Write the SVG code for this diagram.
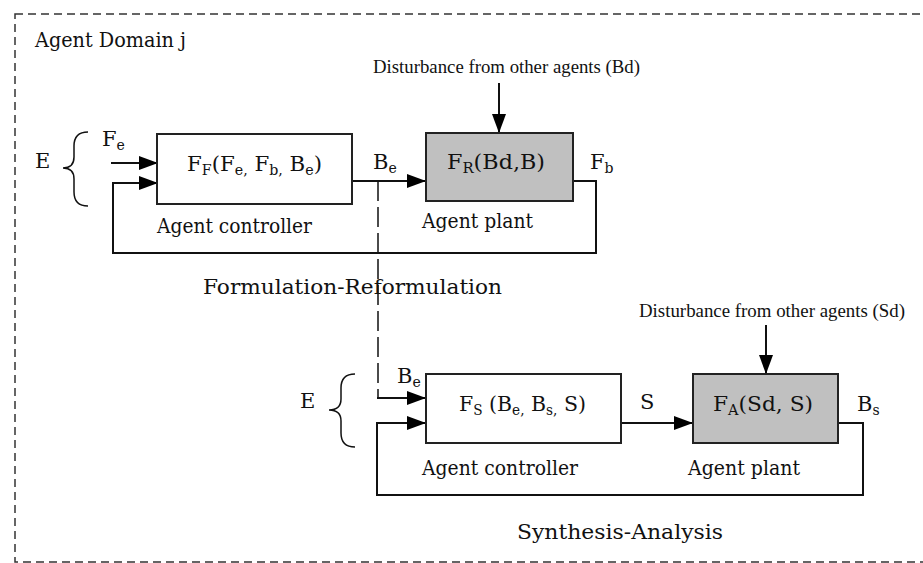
<svg xmlns="http://www.w3.org/2000/svg" width="923" height="563" viewBox="0 0 923 563">
  <defs>
    <marker id="arrow" markerWidth="19" markerHeight="14" refX="19" refY="7" orient="auto" markerUnits="userSpaceOnUse">
      <path d="M0,0 L19,7 L0,14 Z" fill="#000"/>
    </marker>
    <style>
      .lbl { font-family: "DejaVu Serif", "Liberation Serif", serif; font-size: 21px; fill: #111; }
      .sub { font-size: 14px; }
      .dist { font-family: "Liberation Serif", "DejaVu Serif", serif; font-size: 19px; fill: #111; }
      .box { fill: #fff; stroke: #222; stroke-width: 2; }
      .plant { fill: #c0c0c0; stroke: #222; stroke-width: 2; }
      .wire { fill: none; stroke: #111; stroke-width: 2; }
      .dashed { fill: none; stroke: #111; stroke-width: 1.5; stroke-dasharray: 20 6; }
      .brace { fill: none; stroke: #111; stroke-width: 1.5; }
      .frame { fill: none; stroke: #333; stroke-width: 1.5; stroke-dasharray: 8 5; }
    </style>
  </defs>
  <rect width="923" height="563" fill="#fff"/>

  <!-- agent domain boundary -->
  <rect class="frame" x="15" y="14" width="930" height="548"/>
  <text class="lbl" x="35" y="47" textLength="151" lengthAdjust="spacingAndGlyphs">Agent Domain j</text>

  <!-- connectors -->
  <g id="connectors">
    <!-- formulation-reformulation loop -->
    <line class="wire" x1="111" y1="163" x2="158" y2="163" marker-end="url(#arrow)"/>
    <polyline class="wire" points="352,181 426,181" marker-end="url(#arrow)"/>
    <polyline class="wire" points="499,83 499,133" marker-end="url(#arrow)"/>
    <polyline class="wire" points="573,181 596,181 596,253 113,253 113,183 158,183" marker-end="url(#arrow)"/>
    <!-- link between the two loops -->
    <polyline class="dashed" points="378,181 378,398"/>
    <!-- synthesis-analysis loop -->
    <polyline class="wire" points="377,398 426,398" marker-end="url(#arrow)"/>
    <polyline class="wire" points="621,423 693,423" marker-end="url(#arrow)"/>
    <polyline class="wire" points="766,325 766,374" marker-end="url(#arrow)"/>
    <polyline class="wire" points="838,423 863,423 863,495 377,495 377,423 426,423" marker-end="url(#arrow)"/>
  </g>

  <!-- input braces -->
  <path class="brace" d="M88,132 Q74,132 74,146 L74,157 Q74,168 63,168 Q74,168 74,179 L74,192 Q74,206 88,206"/>
  <path class="brace" d="M355,374 Q341,374 341,388 L341,399 Q341,410 329,410 Q341,410 341,421 L341,433 Q341,447 355,447"/>

  <!-- upper loop nodes -->
  <g id="ff-controller">
    <rect class="box" x="157" y="134" width="195" height="70"/>
    <text class="lbl" x="187" y="171" textLength="135" lengthAdjust="spacingAndGlyphs">F<tspan class="sub" dy="4">F</tspan><tspan dy="-4">(F</tspan><tspan class="sub" dy="4">e,</tspan><tspan dy="-4"> F</tspan><tspan class="sub" dy="4">b,</tspan><tspan dy="-4"> B</tspan><tspan class="sub" dy="4">e</tspan><tspan dy="-4">)</tspan></text>
    <text class="lbl" x="157" y="233" textLength="155" lengthAdjust="spacingAndGlyphs">Agent controller</text>
  </g>
  <g id="fr-plant">
    <rect class="plant" x="426" y="133" width="147" height="68"/>
    <text class="lbl" x="447" y="169" textLength="98" lengthAdjust="spacingAndGlyphs">F<tspan class="sub" dy="4">R</tspan><tspan dy="-4">(Bd,B)</tspan></text>
    <text class="lbl" x="422" y="228" textLength="111" lengthAdjust="spacingAndGlyphs">Agent plant</text>
  </g>
  <text class="dist" x="373" y="73" textLength="267" lengthAdjust="spacingAndGlyphs">Disturbance from other agents (Bd)</text>
  <text class="lbl" x="35" y="168">E</text>
  <text class="lbl" x="102" y="146">F<tspan class="sub" dy="4">e</tspan></text>
  <text class="lbl" x="373" y="169">B<tspan class="sub" dy="4">e</tspan></text>
  <text class="lbl" x="590" y="169">F<tspan class="sub" dy="4">b</tspan></text>
  <text class="lbl" x="203" y="294" textLength="299" lengthAdjust="spacingAndGlyphs">Formulation-Reformulation</text>

  <!-- lower loop nodes -->
  <g id="fs-controller">
    <rect class="box" x="426" y="374" width="195" height="69"/>
    <text class="lbl" x="459" y="411" textLength="127" lengthAdjust="spacingAndGlyphs">F<tspan class="sub" dy="4">S</tspan><tspan dy="-4"> (B</tspan><tspan class="sub" dy="4">e,</tspan><tspan dy="-4"> B</tspan><tspan class="sub" dy="4">s,</tspan><tspan dy="-4"> S)</tspan></text>
    <text class="lbl" x="422" y="475" textLength="156" lengthAdjust="spacingAndGlyphs">Agent controller</text>
  </g>
  <g id="fa-plant">
    <rect class="plant" x="693" y="374" width="145" height="69"/>
    <text class="lbl" x="713" y="411" textLength="100" lengthAdjust="spacingAndGlyphs">F<tspan class="sub" dy="4">A</tspan><tspan dy="-4">(Sd, S)</tspan></text>
    <text class="lbl" x="688" y="475" textLength="112" lengthAdjust="spacingAndGlyphs">Agent plant</text>
  </g>
  <text class="dist" x="639" y="317" textLength="266" lengthAdjust="spacingAndGlyphs">Disturbance from other agents (Sd)</text>
  <text class="lbl" x="300" y="408">E</text>
  <text class="lbl" x="397" y="383">B<tspan class="sub" dy="4">e</tspan></text>
  <text class="lbl" x="640" y="409">S</text>
  <text class="lbl" x="857" y="411">B<tspan class="sub" dy="4">s</tspan></text>
  <text class="lbl" x="517" y="539" textLength="206" lengthAdjust="spacingAndGlyphs">Synthesis-Analysis</text>
</svg>
